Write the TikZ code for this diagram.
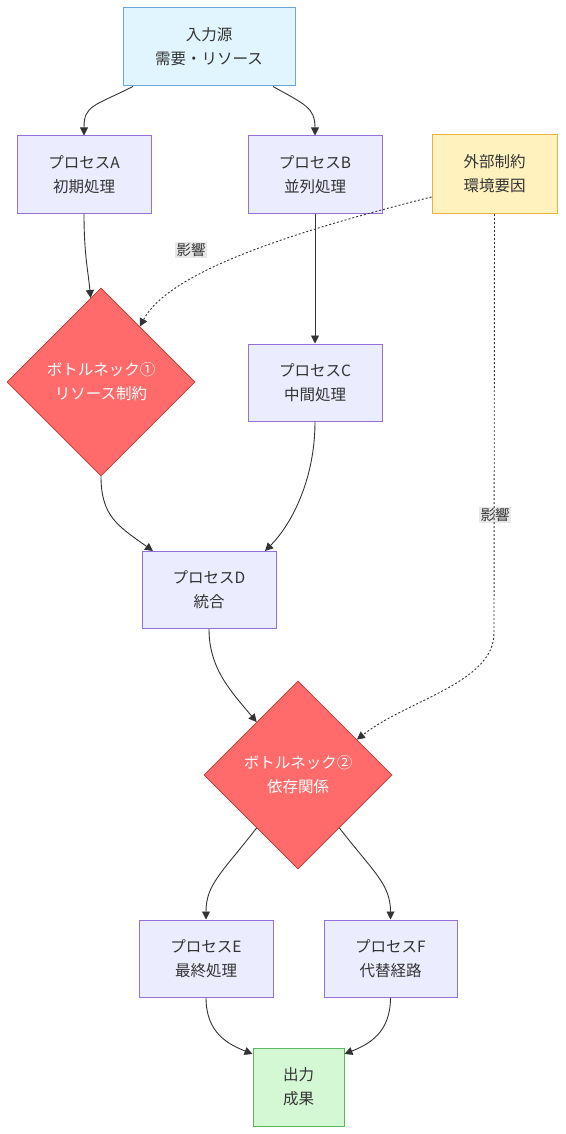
\documentclass[tikz,border=0pt]{standalone}
\usepackage{fontspec}
\setmainfont{Noto Sans CJK JP}
\usetikzlibrary{shapes.geometric,arrows.meta}
\definecolor{procfill}{HTML}{ECECFF}
\definecolor{procdraw}{HTML}{9370DB}
\definecolor{infill}{HTML}{E1F5FE}
\definecolor{indraw}{HTML}{6AA6DA}
\definecolor{extfill}{HTML}{FFF2BF}
\definecolor{extdraw}{HTML}{E6B33E}
\definecolor{botfill}{HTML}{FF6B6B}
\definecolor{botdraw}{HTML}{C0392B}
\definecolor{outfill}{HTML}{D4F7D4}
\definecolor{outdraw}{HTML}{5DB761}
\definecolor{txt}{HTML}{333333}
\definecolor{edgec}{HTML}{333333}
\definecolor{lblfill}{HTML}{E8E8E8}
\begin{document}
\begin{tikzpicture}[x=1pt,y=-1pt,
  base/.style={draw, line width=1pt, align=center, text=txt, inner sep=0pt,
    font=\fontsize{15.5}{24}\selectfont},
  proc/.style={base, fill=procfill, draw=procdraw, minimum width=134pt, minimum height=77pt},
  inbox/.style={base, fill=infill, draw=indraw, minimum width=172pt, minimum height=78pt},
  extbox/.style={base, fill=extfill, draw=extdraw, minimum width=125pt, minimum height=79pt},
  outbox/.style={base, fill=outfill, draw=outdraw, minimum width=91pt, minimum height=78pt},
  bneck/.style={base, diamond, aspect=1, fill=botfill, draw=botdraw, line width=0.6pt, text=white,
    minimum width=188pt, minimum height=188pt},
  lbl/.style={fill=lblfill, text=txt, inner sep=1.5pt, font=\fontsize{14.5}{17}\selectfont},
  edge/.style={draw=edgec, line width=0.9pt, -{Triangle[length=8pt,width=8pt]}},
  dotedge/.style={edge, dash pattern=on 2pt off 2pt}
]
\useasboundingbox (0,0) rectangle (565,1134);

\node[inbox] (in) at (209,47) {入力源\\需要・リソース};
\node[proc] (A) at (84,174.5) {プロセスA\\初期処理};
\node[proc] (B) at (315,174.5) {プロセスB\\並列処理};
\node[extbox] (ext) at (494.5,174) {外部制約\\環境要因};
\node[bneck] (d1) at (101,382) {ボトルネック①\\リソース制約};
\node[proc] (C) at (315,382.5) {プロセスC\\中間処理};
\node[proc] (D) at (209,590) {プロセスD\\統合};
\node[bneck] (d2) at (298,775) {ボトルネック②\\依存関係};
\node[proc] (E) at (206,958.5) {プロセスE\\最終処理};
\node[proc, minimum width=133pt] (F) at (390.5,958.5) {プロセスF\\代替経路};
\node[outbox] (out) at (298.5,1087) {出力\\成果};

\node[lbl] (l1) at (191,250) {影響};
\node[lbl] (l2) at (495,515) {影響};

\draw[edge] ([xshift=-76pt]in.south) .. controls +(-40,20) and +(0,-30) .. (A.north);
\draw[edge] ([xshift=64pt]in.south) .. controls +(32,18) and +(0,-28) .. (B.north);
\draw[edge] (A.south) .. controls +(0,40) and +(-3,-30) .. (d1.97);
\draw[edge] (B.south) -- (C.north);
\draw[dotedge] ([yshift=-23pt]ext.west) .. controls (300,230) and (170,270) .. (d1.55);
\draw[dotedge] (ext.south) -- (494,633) .. controls (494,683) and (407,700) .. (d2.31);
\draw[edge] (d1.south) .. controls +(0,40) and +(-35,-25) .. ([xshift=-56pt]D.north);
\draw[edge] (C.south) .. controls +(0,60) and +(25,-25) .. ([xshift=56pt]D.north);
\draw[edge] (D.south) .. controls +(0,40) and +(-25,-30) .. (d2.128);
\draw[edge] (d2.232) .. controls +(-35,45) and +(0,-35) .. (E.north);
\draw[edge] (d2.308) .. controls +(35,45) and +(0,-35) .. (F.north);
\draw[edge] (E.south) .. controls +(0,35) and +(-25,-10) .. ([yshift=33pt]out.west);
\draw[edge] (F.south) .. controls +(0,35) and +(25,-10) .. ([yshift=33pt]out.east);
\end{tikzpicture}
\end{document}
